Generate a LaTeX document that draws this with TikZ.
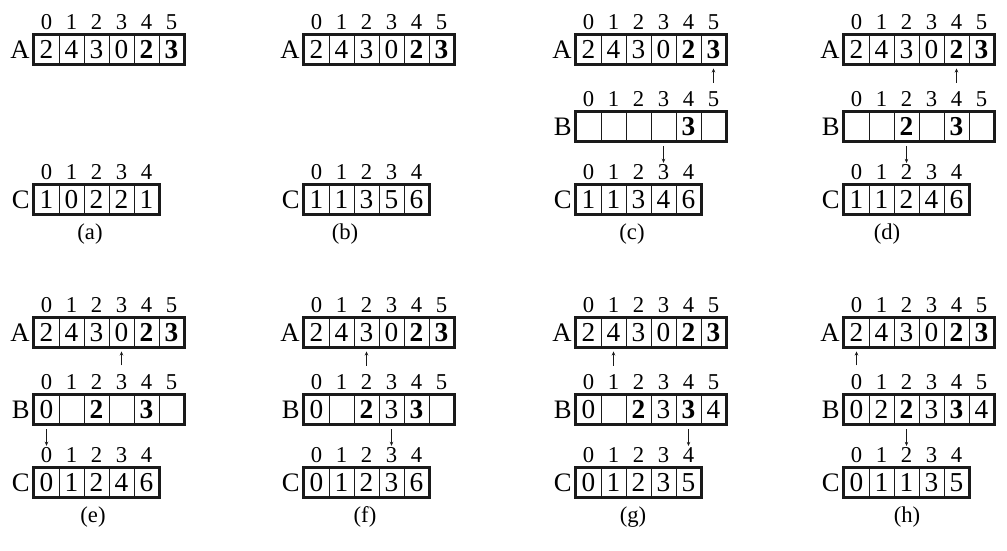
\documentclass[tikz,border=0pt]{standalone}
\usepackage{fontspec}
\setmainfont{Liberation Serif}
\usepackage{tikz}
\usetikzlibrary{arrows.meta}
\definecolor{ink}{HTML}{1A1A1A}
\newcommand{\cellrow}[5]{%
  \foreach \v [count=\k from 0] in {#5} {
    \node[cell] (#1#2\k) at ({12.5+25*\k},{#3+14.5}) {\v};
    \node[idx] (#1#2i\k) at ({12.5+25*\k},{#3-13}) {\k};
  }
  \draw[rowbox] (#1#20.north west) rectangle (#1#2#4.south east);
  \node[rowlab] (#1#2) at (-4,{#3+14.5}) {#2};
}
\newcommand{\rowA}[1]{\cellrow{#1}{A}{0}{5}{2,4,3,0,\textbf{2},\textbf{3}}}

\begin{document}
\begin{tikzpicture}[
  x=0.75pt,y=-0.75pt,
  cell/.style={draw=ink,line width=0.7pt,minimum width=18.75pt,minimum height=21.75pt,
               inner sep=0pt,font=\fontsize{20.5}{20.5}\selectfont},
  idx/.style={inner sep=0pt,font=\fontsize{17}{17}\selectfont},
  rowlab/.style={anchor=east,inner sep=0pt,font=\fontsize{20}{20}\selectfont},
  rowbox/.style={draw=ink,line width=1.8pt},
  sublab/.style={inner sep=0pt,font=\fontsize{17}{17}\selectfont},
  ptr/.style={-{Stealth[length=3pt,width=2.6pt]},line width=0.45pt,draw=ink,
              shorten <=6.5pt,shorten >=3pt},
  dptr/.style={ptr,shorten <=3.75pt,shorten >=1pt}
]
\useasboundingbox (0,0) rectangle (1007,550);

\begin{scope}[shift={(34,35)}]
\rowA{a}
\cellrow{a}{C}{150}{4}{1,0,2,2,1}
\node[sublab] (acap) at (56,199) {(a)};
\end{scope}

\begin{scope}[shift={(304,35)}]
\rowA{b}
\cellrow{b}{C}{150}{4}{1,1,3,5,6}
\node[sublab] (bcap) at (41,199) {(b)};
\end{scope}

\begin{scope}[shift={(576,35)}]
\rowA{c}
\cellrow{c}{B}{77}{5}{{},{},{},{},\textbf{3},{}}
\cellrow{c}{C}{150}{4}{1,1,3,4,6}
\draw[ptr] (cBi5) -- (cA5);
\draw[dptr] (cB3) -- (cCi3);
\node[sublab] (ccap) at (56,199) {(c)};
\end{scope}

\begin{scope}[shift={(844,35)}]
\rowA{d}
\cellrow{d}{B}{77}{5}{{},{},\textbf{2},{},\textbf{3},{}}
\cellrow{d}{C}{150}{4}{1,1,2,4,6}
\draw[ptr] (dBi4) -- (dA4);
\draw[dptr] (dB2) -- (dCi2);
\node[sublab] (dcap) at (43,199) {(d)};
\end{scope}

\begin{scope}[shift={(34,318)}]
\rowA{e}
\cellrow{e}{B}{77}{5}{0,{},\textbf{2},{},\textbf{3},{}}
\cellrow{e}{C}{150}{4}{0,1,2,4,6}
\draw[ptr] (eBi3) -- (eA3);
\draw[dptr] (eB0) -- (eCi0);
\node[sublab] (ecap) at (59,199) {(e)};
\end{scope}

\begin{scope}[shift={(304,318)}]
\rowA{f}
\cellrow{f}{B}{77}{5}{0,{},\textbf{2},3,\textbf{3},{}}
\cellrow{f}{C}{150}{4}{0,1,2,3,6}
\draw[ptr] (fBi2) -- (fA2);
\draw[dptr] (fB3) -- (fCi3);
\node[sublab] (fcap) at (61,199) {(f)};
\end{scope}

\begin{scope}[shift={(576,318)}]
\rowA{g}
\cellrow{g}{B}{77}{5}{0,{},\textbf{2},3,\textbf{3},4}
\cellrow{g}{C}{150}{4}{0,1,2,3,5}
\draw[ptr] (gBi1) -- (gA1);
\draw[dptr] (gB4) -- (gCi4);
\node[sublab] (gcap) at (57,199) {(g)};
\end{scope}

\begin{scope}[shift={(844,318)}]
\rowA{h}
\cellrow{h}{B}{77}{5}{0,2,\textbf{2},3,\textbf{3},4}
\cellrow{h}{C}{150}{4}{0,1,1,3,5}
\draw[ptr] (hBi0) -- (hA0);
\draw[dptr] (hB2) -- (hCi2);
\node[sublab] (hcap) at (63,199) {(h)};
\end{scope}
\end{tikzpicture}
\end{document}
